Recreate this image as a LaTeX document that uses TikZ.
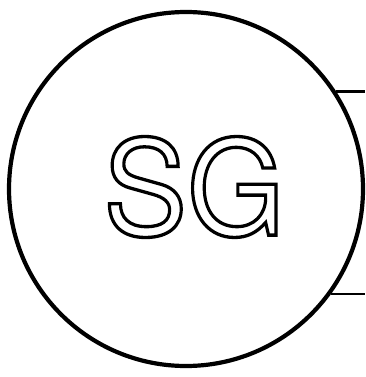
\documentclass[tikz,border=0pt]{standalone}
\usepackage{fontspec}
\setmainfont{TeX Gyre Heros}
\newcommand\hollowtext[1]{\special{pdf:literal direct 1 Tr 3.3 w}#1\special{pdf:literal direct 0 Tr}}
\begin{document}
\begin{tikzpicture}[x=1pt,y=-1pt,
  ring/.style={circle,draw=black,line width=4.2pt,minimum size=354pt,inner sep=0pt},
  lead/.style={draw=black,line width=2.2pt},
  label/.style={font=\fontsize{132}{132}\selectfont,inner sep=0pt,xscale=0.95}]
\useasboundingbox (0,0) rectangle (365,377);
\node[ring] (g) at (186,189) {};
\node[label] (sg) at (194,187) {\hollowtext{SG}};
\coordinate (r) at (365,0);
\draw[lead] (g.33) -- (g.33 -| r);
\draw[lead] (g.-36.5) -- (g.-36.5 -| r);
\end{tikzpicture}
\end{document}
